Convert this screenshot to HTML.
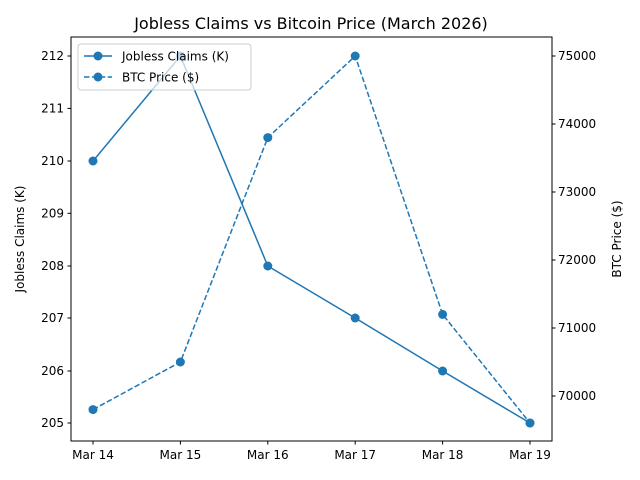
<!DOCTYPE html>
<html><head><meta charset="utf-8"><style>
html,body{margin:0;padding:0;background:#fff;}
svg{display:block;font-family:"DejaVu Sans","Liberation Sans",sans-serif;}
</style></head><body>
<svg width="640" height="480" viewBox="0 0 640 480" xmlns="http://www.w3.org/2000/svg">
<rect width="640" height="480" fill="#fff"/>
<text x="311" y="29" font-size="16" text-anchor="middle" fill="#000">Jobless Claims vs Bitcoin Price (March 2026)</text>
<g stroke="#1f77b4" stroke-width="1.5" fill="none">
<polyline points="93,161 180.4,56 267.8,266 355.2,318 442.6,371 530,423"/>
<polyline points="93,409.6 180.4,362 267.8,137.6 355.2,56 442.6,314.4 530,423" stroke-dasharray="5.5,2.4"/>
</g>
<g fill="#1f77b4">
<circle cx="93" cy="161" r="4.5"/><circle cx="180.4" cy="56" r="4.5"/><circle cx="267.8" cy="266" r="4.5"/><circle cx="355.2" cy="318" r="4.5"/><circle cx="442.6" cy="371" r="4.5"/><circle cx="530" cy="423" r="4.5"/>
<circle cx="93" cy="409.6" r="4.5"/><circle cx="180.4" cy="362" r="4.5"/><circle cx="267.8" cy="137.6" r="4.5"/><circle cx="355.2" cy="56" r="4.5"/><circle cx="442.6" cy="314.4" r="4.5"/><circle cx="530" cy="423" r="4.5"/>
</g>
<rect x="71" y="37" width="481" height="404" fill="none" stroke="#000" stroke-width="1"/>
<g stroke="#000" stroke-width="1">
<line x1="67.5" x2="71" y1="56" y2="56"/><line x1="67.5" x2="71" y1="108.4" y2="108.4"/><line x1="67.5" x2="71" y1="161" y2="161"/><line x1="67.5" x2="71" y1="213.3" y2="213.3"/><line x1="67.5" x2="71" y1="266" y2="266"/><line x1="67.5" x2="71" y1="318" y2="318"/><line x1="67.5" x2="71" y1="371" y2="371"/><line x1="67.5" x2="71" y1="423" y2="423"/>
<line x1="552" x2="555.5" y1="56" y2="56"/><line x1="552" x2="555.5" y1="124" y2="124"/><line x1="552" x2="555.5" y1="192" y2="192"/><line x1="552" x2="555.5" y1="260" y2="260"/><line x1="552" x2="555.5" y1="328" y2="328"/><line x1="552" x2="555.5" y1="396" y2="396"/>
<line x1="93" x2="93" y1="441" y2="444.5"/><line x1="180.4" x2="180.4" y1="441" y2="444.5"/><line x1="267.8" x2="267.8" y1="441" y2="444.5"/><line x1="355.2" x2="355.2" y1="441" y2="444.5"/><line x1="442.6" x2="442.6" y1="441" y2="444.5"/><line x1="530" x2="530" y1="441" y2="444.5"/>
</g>
<g font-size="12" fill="#000" text-anchor="end">
<text x="64" y="60">212</text><text x="64" y="112.5">211</text><text x="64" y="165">210</text><text x="64" y="217.5">209</text><text x="64" y="270">208</text><text x="64" y="322">207</text><text x="64" y="375">206</text><text x="64" y="427">205</text>
</g>
<g font-size="12" fill="#000">
<text x="558" y="60">75000</text><text x="558" y="128">74000</text><text x="558" y="196">73000</text><text x="558" y="264">72000</text><text x="558" y="332">71000</text><text x="558" y="400">70000</text>
</g>
<g font-size="12" fill="#000" text-anchor="middle">
<text x="93" y="459">Mar 14</text><text x="180.4" y="459">Mar 15</text><text x="267.8" y="459">Mar 16</text><text x="355.2" y="459">Mar 17</text><text x="442.6" y="459">Mar 18</text><text x="530" y="459">Mar 19</text>
</g>
<text transform="translate(24,239) rotate(-90)" font-size="12" text-anchor="middle">Jobless Claims (K)</text>
<text transform="translate(621,239) rotate(-90)" font-size="12" text-anchor="middle">BTC Price ($)</text>
<rect x="78" y="44" width="173" height="46" rx="3" fill="#fff" fill-opacity="0.7" stroke="#ccc"/>
<line x1="84" x2="112" y1="56" y2="56" stroke="#1f77b4" stroke-width="1.5"/>
<circle cx="98" cy="56" r="4.5" fill="#1f77b4"/>
<line x1="84" x2="112" y1="77" y2="77" stroke="#1f77b4" stroke-width="1.5" stroke-dasharray="5.5,2.4"/>
<circle cx="98" cy="77" r="4.5" fill="#1f77b4"/>
<text x="122" y="60.5" font-size="12">Jobless Claims (K)</text>
<text x="122" y="81.5" font-size="12">BTC Price ($)</text>
</svg>
</body></html>
